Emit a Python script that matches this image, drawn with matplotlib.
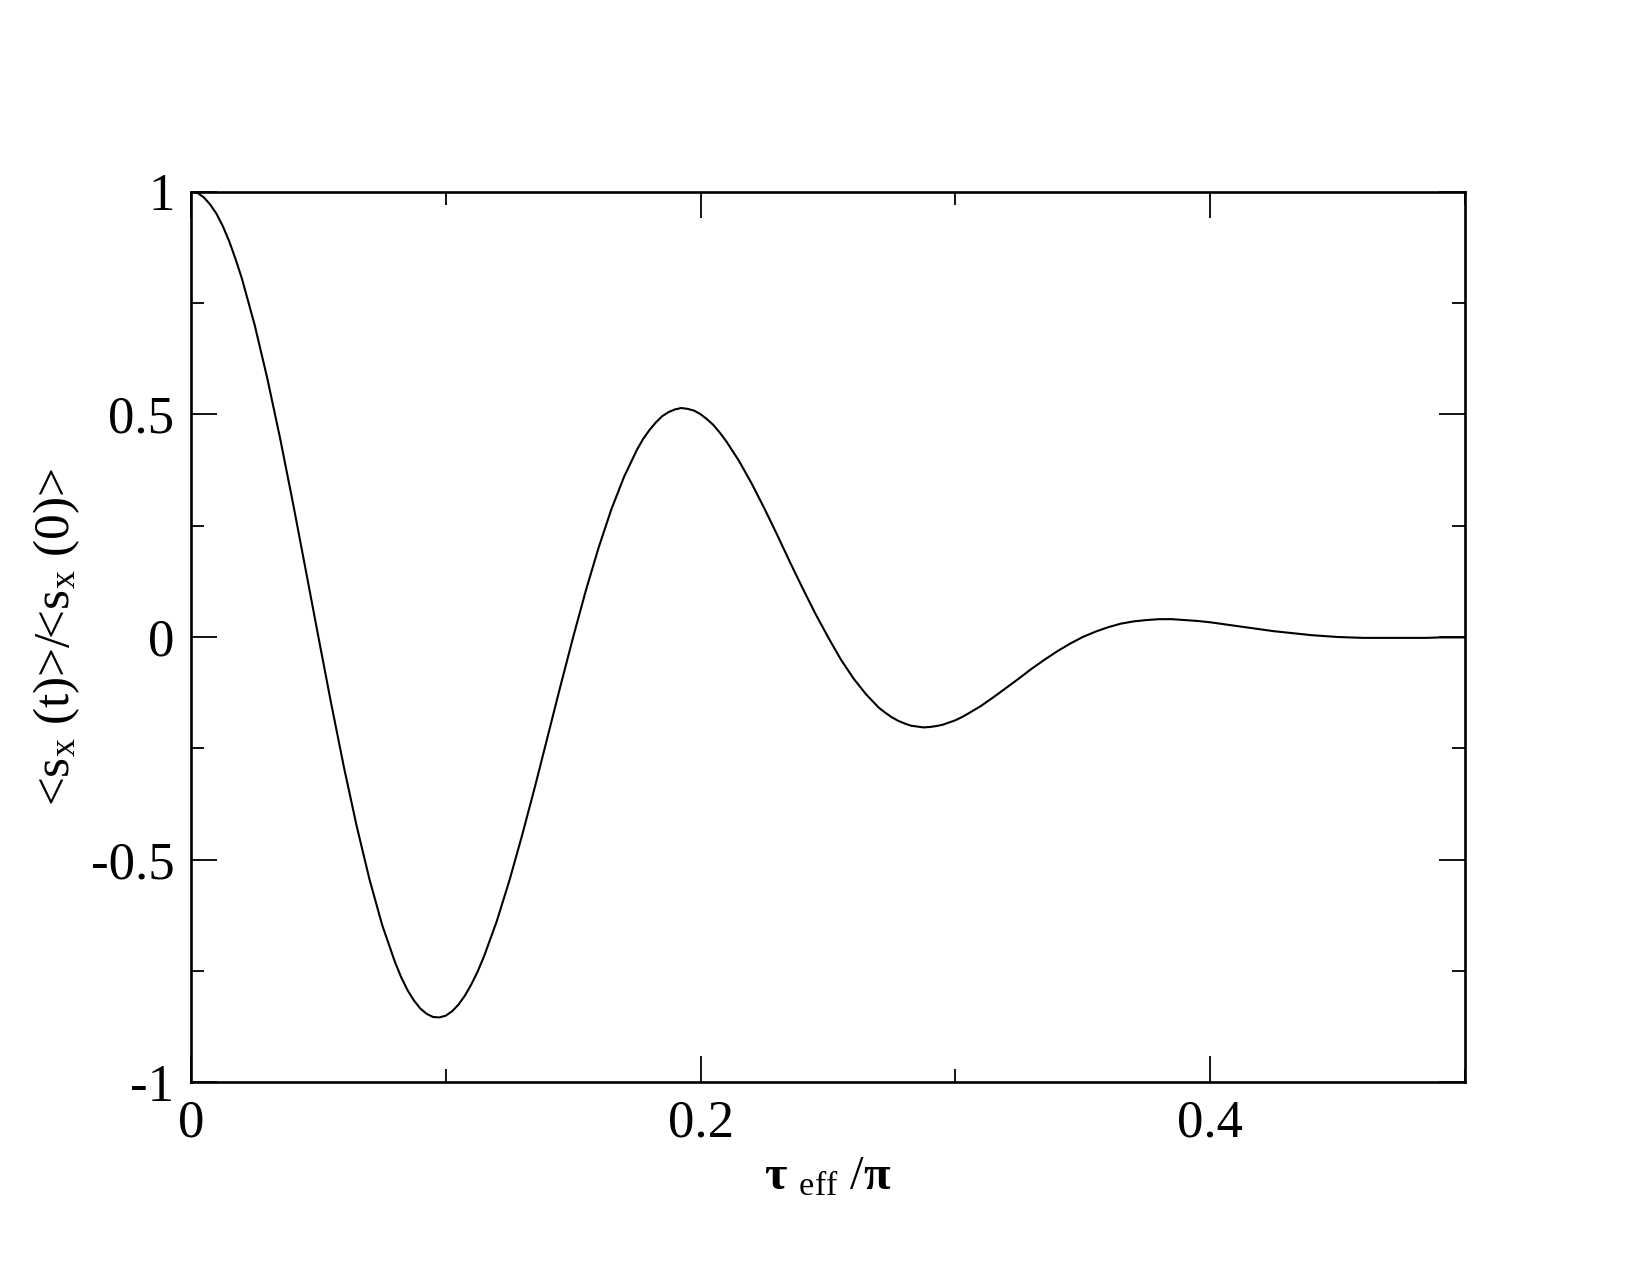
import matplotlib
matplotlib.use("Agg")
import matplotlib.pyplot as plt
from matplotlib.ticker import MultipleLocator, FormatStrFormatter

# <s_x(t)>/<s_x(0)> (denser sampling near the extrema)
tau = [
    0.0, 0.0025, 0.005, 0.0075, 0.01, 0.0125, 0.015, 0.0175, 0.02,
    0.025, 0.03, 0.035, 0.04, 0.045, 0.05, 0.055, 0.06, 0.065, 0.07, 0.075, 0.08,
    0.0825, 0.085, 0.0875, 0.09, 0.0925, 0.095, 0.0975, 0.1, 0.1025, 0.105, 0.1075, 0.11, 0.1125,
    0.115, 0.12, 0.125, 0.13, 0.135, 0.14, 0.145, 0.15, 0.155, 0.16, 0.165, 0.17, 0.175,
    0.1775, 0.18, 0.1825, 0.185, 0.1875, 0.19, 0.1925, 0.195, 0.1975, 0.2, 0.2025, 0.205, 0.2075,
    0.21, 0.215, 0.22, 0.225, 0.23, 0.235, 0.24, 0.245, 0.25, 0.255, 0.26, 0.265, 0.27,
    0.2725, 0.275, 0.2775, 0.28, 0.2825, 0.285, 0.2875, 0.29, 0.2925, 0.295, 0.2975, 0.3, 0.3025,
    0.305, 0.31, 0.315, 0.32, 0.325, 0.33, 0.335, 0.34, 0.345, 0.35,
    0.355, 0.36, 0.365, 0.37, 0.375, 0.38, 0.385, 0.39, 0.395, 0.4,
    0.405, 0.41, 0.415, 0.42, 0.425, 0.43, 0.435, 0.44, 0.445, 0.45,
    0.455, 0.46, 0.465, 0.47, 0.475, 0.48, 0.485, 0.49, 0.495, 0.5,
]
sx_ratio = [
    1.000, 0.997, 0.987, 0.971, 0.950, 0.922, 0.888, 0.848, 0.804,
    0.700, 0.579, 0.445, 0.301, 0.151, 0.000, -0.149, -0.292, -0.424, -0.543, -0.646, -0.729,
    -0.764, -0.793, -0.816, -0.834, -0.846, -0.853, -0.854, -0.850, -0.840, -0.825, -0.805, -0.780, -0.751,
    -0.717, -0.638, -0.546, -0.444, -0.336, -0.223, -0.110, 0.000, 0.105, 0.201, 0.287, 0.360, 0.420,
    0.445, 0.465, 0.482, 0.496, 0.505, 0.511, 0.514, 0.512, 0.508, 0.500, 0.489, 0.476, 0.459,
    0.440, 0.396, 0.345, 0.289, 0.230, 0.169, 0.110, 0.053, 0.000, -0.050, -0.093, -0.129, -0.159,
    -0.170, -0.180, -0.188, -0.194, -0.199, -0.201, -0.203, -0.202, -0.200, -0.197, -0.192, -0.187, -0.180,
    -0.172, -0.155, -0.135, -0.114, -0.093, -0.071, -0.051, -0.032, -0.015, 0.000,
    0.012, 0.022, 0.030, 0.035, 0.038, 0.040, 0.040, 0.038, 0.036, 0.033,
    0.029, 0.025, 0.021, 0.017, 0.013, 0.010, 0.007, 0.004, 0.002, 0.000,
    -0.001, -0.002, -0.002, -0.002, -0.002, -0.002, -0.002, -0.001, -0.001, -0.001,
]
assert len(tau) == len(sx_ratio)

plt.rcParams["font.family"] = ["Liberation Serif", "DejaVu Serif"]
plt.rcParams["mathtext.fontset"] = "custom"
plt.rcParams["mathtext.rm"] = "Liberation Serif"
plt.rcParams["mathtext.it"] = "Liberation Serif:italic"
plt.rcParams["mathtext.bf"] = "Liberation Serif:bold"
plt.rcParams["axes.unicode_minus"] = False

fig = plt.figure(figsize=(16.51, 12.75), dpi=100)
ax = fig.add_axes([0.1157, 0.151, 0.7716, 0.6988])

ax.plot(tau, sx_ratio, color="black", lw=1.5)

ax.set_xlim(0, 0.5)
ax.set_ylim(-1, 1)
ax.xaxis.set_major_locator(MultipleLocator(0.2))
ax.xaxis.set_minor_locator(MultipleLocator(0.1))
ax.yaxis.set_major_locator(MultipleLocator(0.5))
ax.yaxis.set_minor_locator(MultipleLocator(0.25))
ax.xaxis.set_major_formatter(FormatStrFormatter("%g"))
ax.yaxis.set_major_formatter(FormatStrFormatter("%g"))

ax.tick_params(which="both", direction="in", top=True, right=True, width=1.3)
ax.tick_params(which="major", length=19, labelsize=38, pad=12)
ax.tick_params(which="minor", length=9.5)
for s in ax.spines.values():
    s.set_linewidth(1.9)

ax.set_xlabel(r"$\mathbf{τ}$ $_{\mathrm{eff}}$ /$\mathbf{π}$", fontsize=35, labelpad=6)
ax.set_ylabel(r"<s$_{\mathrm{x}}$ (t)>/<s$_{\mathrm{x}}$ (0)>", fontsize=37, labelpad=6)

fig.savefig("out.png", dpi=100, facecolor="white")
